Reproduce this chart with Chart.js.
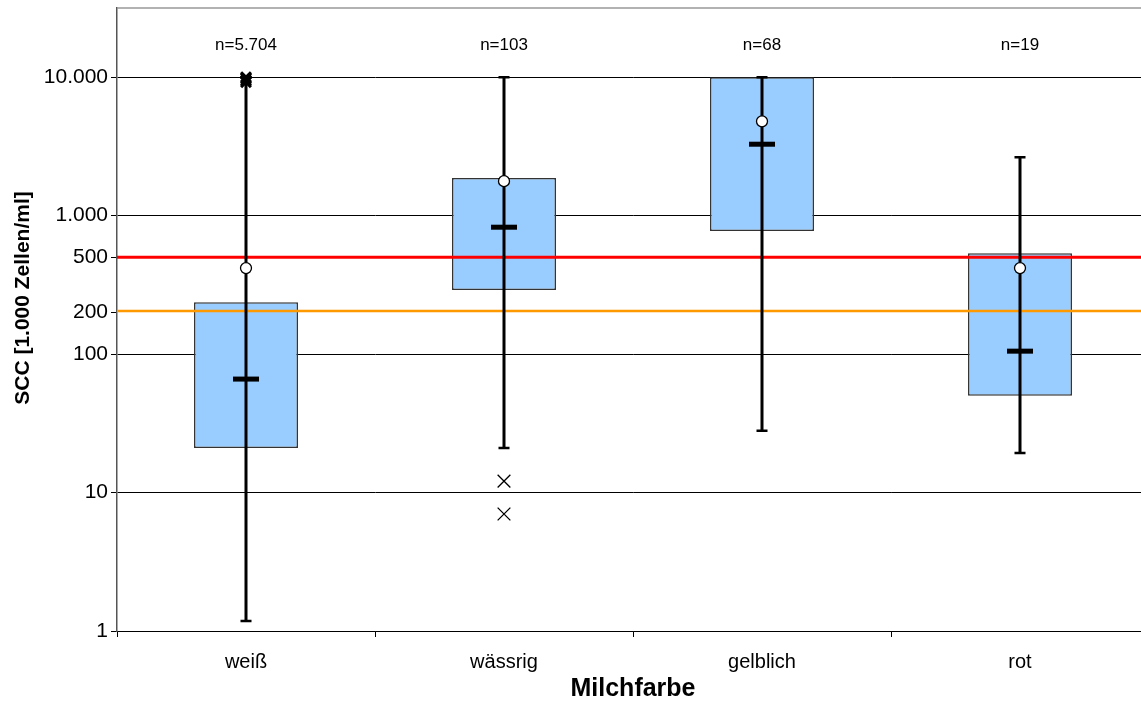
<!DOCTYPE html>
<html lang="de">
<head>
    <meta charset="UTF-8">
    <title>SCC nach Milchfarbe</title>
    <script src="https://cdn.jsdelivr.net/npm/chart.js"></script>
    <style>
        html, body { margin: 0; padding: 0; background: #fff; overflow: hidden; }
        #wrap { width: 1141px; height: 701px; overflow: hidden; }
        canvas { display: block; }
    </style>
</head>
<body>
    <div id="wrap"><canvas id="sccChart" width="1149" height="704"></canvas></div>

    <script>
        // Werte (1.000 Zellen/ml)
        var categories = ['weiß', 'wässrig', 'gelblich', 'rot'];
        var nLabels = ['n=5.704', 'n=103', 'n=68', 'n=19'];
        var q1 = [21, 290, 775, 50];
        var q3 = [237, 1870, 10000, 535];
        var medians = [66, 825, 3280, 105];
        var means = [418, 1775, 4800, 418];
        var whiskerMin = [1.18, 21, 28, 19.3];
        var whiskerMax = [10000, 10000, 10000, 2640];
        var outlierCat = ['weiß', 'weiß', 'weiß', 'weiß', 'wässrig', 'wässrig'];
        var outlierVal = [9200, 9500, 9800, 10000, 12.1, 7.0];
        var yTicks = [1, 10, 100, 200, 500, 1000, 10000];
        var refValues = [500, 205];
        var refColors = ['#ff0000', '#ff9900'];

        var fontFamily = '"Liberation Sans", Arial, sans-serif';

        function formatDe(v) {
            return String(v).replace(/\B(?=(\d{3})+(?!\d))/g, '.');
        }

        function noPadding(scale) {
            scale.paddingTop = 0;
            scale.paddingBottom = 0;
            scale.paddingLeft = 0;
            scale.paddingRight = 0;
        }

        // Whisker, Mediane, Grenzwertlinien und n-Beschriftung
        var boxExtras = {
            id: 'boxExtras',
            afterDatasetDraw: function (chart, args) {
                if (args.index !== 0) return;
                var ctx = chart.ctx;
                var xs = chart.scales.x, ys = chart.scales.y;
                var area = chart.chartArea;
                ctx.save();

                // Grenzwerte
                for (var r = 0; r < refValues.length; r++) {
                    var yr = ys.getPixelForValue(refValues[r]);
                    ctx.strokeStyle = refColors[r];
                    ctx.lineWidth = r === 0 ? 3 : 2.5;
                    ctx.beginPath();
                    ctx.moveTo(area.left, yr);
                    ctx.lineTo(area.right, yr);
                    ctx.stroke();
                }

                for (var i = 0; i < categories.length; i++) {
                    var x = xs.getPixelForValue(i);
                    var yMin = ys.getPixelForValue(whiskerMin[i]);
                    var yMax = ys.getPixelForValue(whiskerMax[i]);
                    ctx.strokeStyle = '#000';
                    ctx.lineWidth = 3;
                    ctx.beginPath();
                    ctx.moveTo(x, yMin);
                    ctx.lineTo(x, yMax);
                    ctx.stroke();
                    // caps
                    ctx.lineWidth = 2.5;
                    ctx.beginPath();
                    ctx.moveTo(x - 5.5, yMin); ctx.lineTo(x + 5.5, yMin);
                    ctx.moveTo(x - 5.5, yMax); ctx.lineTo(x + 5.5, yMax);
                    ctx.stroke();
                    // median
                    var yMed = ys.getPixelForValue(medians[i]);
                    ctx.fillStyle = '#000';
                    ctx.fillRect(x - 13, yMed - 2.5, 26, 5);
                }
                ctx.restore();
            },
            afterDraw: function (chart) {
                var ctx = chart.ctx;
                var xs = chart.scales.x, ys = chart.scales.y;
                var area = chart.chartArea;
                ctx.save();
                // obere Rahmenlinie
                ctx.strokeStyle = '#999';
                ctx.lineWidth = 1.5;
                ctx.beginPath();
                ctx.moveTo(area.left, area.top);
                ctx.lineTo(area.right, area.top);
                ctx.stroke();

                // n=...
                ctx.fillStyle = '#000';
                ctx.font = '17px ' + fontFamily;
                ctx.textAlign = 'center';
                ctx.textBaseline = 'middle';
                var yN = ys.getPixelForValue(17000);
                for (var i = 0; i < nLabels.length; i++) {
                    ctx.fillText(nLabels[i], xs.getPixelForValue(i), yN);
                }

                // y-Achsentitel
                ctx.font = 'bold 21px ' + fontFamily;
                ctx.translate(23, 298);
                ctx.rotate(-Math.PI / 2);
                ctx.fillText('SCC [1.000 Zellen/ml]', 0, 0);
                ctx.restore();
            }
        };

        var ctx = document.getElementById('sccChart').getContext('2d');
        var sccChart = new Chart(ctx, {
            type: 'bar',
            data: {
                labels: categories,
                datasets: [{
                    type: 'bar',
                    label: 'Box',
                    data: categories.map(function (c, i) { return [q1[i], q3[i]]; }),
                    backgroundColor: '#99ccff',
                    borderColor: '#333333',
                    borderWidth: 1.5,
                    borderSkipped: false,
                    categoryPercentage: 1,
                    barPercentage: 0.403,
                    order: 3
                }, {
                    type: 'line',
                    label: 'Mittelwert',
                    data: means,
                    showLine: false,
                    pointRadius: 5.5,
                    pointBackgroundColor: '#ffffff',
                    pointBorderColor: '#000000',
                    pointBorderWidth: 1.3,
                    order: 1
                }, {
                    type: 'line',
                    label: 'Ausreißer',
                    data: outlierCat.map(function (c, i) { return { x: c, y: outlierVal[i] }; }),
                    showLine: false,
                    pointStyle: 'crossRot',
                    pointRadius: outlierCat.map(function (c) { return c === 'weiß' ? 7 : 9; }),
                    pointBorderColor: '#000000',
                    pointBorderWidth: outlierCat.map(function (c) { return c === 'weiß' ? 3 : 1.3; }),
                    order: 2
                }]
            },
            options: {
                responsive: false,
                animation: false,
                layout: {
                    autoPadding: false,
                    padding: { top: 8, right: 0, bottom: 0, left: 0 }
                },
                plugins: {
                    legend: { display: false },
                    tooltip: { enabled: false }
                },
                scales: {
                    x: {
                        type: 'category',
                        offset: true,
                        grid: {
                            offset: true,
                            drawOnChartArea: false,
                            color: '#000',
                            tickLength: 6
                        },
                        border: { color: '#000', width: 1 },
                        ticks: {
                            color: '#000',
                            padding: 13,
                            font: { family: fontFamily, size: 20 }
                        },
                        title: {
                            display: true,
                            text: 'Milchfarbe',
                            color: '#000',
                            padding: { top: 0, bottom: 0 },
                            font: { family: fontFamily, size: 25, weight: 'bold' }
                        },
                        afterFit: function (scale) {
                            scale.height = 73;
                            noPadding(scale);
                        }
                    },
                    y: {
                        type: 'logarithmic',
                        min: 1,
                        max: 31600,
                        afterBuildTicks: function (scale) {
                            scale.ticks = yTicks.map(function (v) { return { value: v }; });
                        },
                        grid: {
                            color: function (c) {
                                var v = c.tick && c.tick.value;
                                return (v === 200 || v === 500) ? 'rgba(0,0,0,0)' : '#000';
                            },
                            tickColor: '#000',
                            tickLength: 6,
                            lineWidth: 1
                        },
                        border: { color: '#555', width: 1.5 },
                        ticks: {
                            color: '#000',
                            padding: 3,
                            autoSkip: false,
                            font: { family: fontFamily, size: 21 },
                            callback: function (v) { return formatDe(v); }
                        },
                        afterFit: function (scale) {
                            scale.width = 117;
                            noPadding(scale);
                        }
                    }
                }
            },
            plugins: [boxExtras]
        });
    </script>
</body>
</html>
